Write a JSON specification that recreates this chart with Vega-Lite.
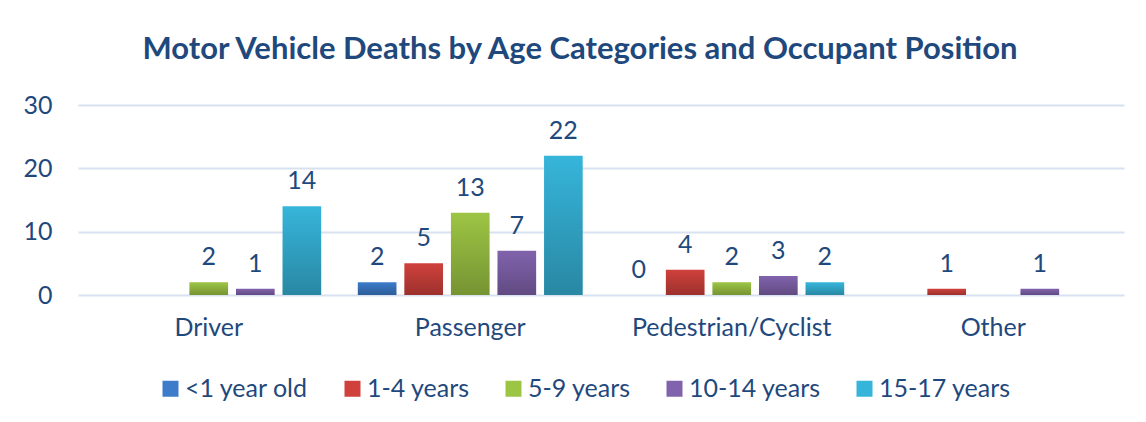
{
  "$schema": "https://vega.github.io/schema/vega-lite/v6.json",
  "autosize": {"type": "none"},
  "width": 1046,
  "height": 190,
  "padding": {"left": 78, "top": 105, "right": 22, "bottom": 127},
  "background": "white",
  "title": {
    "text": "Motor Vehicle Deaths by Age Categories and Occupant Position",
    "font": "Lato",
    "fontSize": 31,
    "fontWeight": "bold",
    "color": "#1F497D",
    "anchor": "middle",
    "dx": -21,
    "offset": 27
  },
  "config": {
    "view": {"stroke": null},
    "font": "Lato"
  },
  "data": {
    "values": [
      {"position": "Driver", "age": "5-9 years", "deaths": 2},
      {"position": "Driver", "age": "10-14 years", "deaths": 1},
      {"position": "Driver", "age": "15-17 years", "deaths": 14},
      {"position": "Passenger", "age": "<1 year old", "deaths": 2},
      {"position": "Passenger", "age": "1-4 years", "deaths": 5},
      {"position": "Passenger", "age": "5-9 years", "deaths": 13},
      {"position": "Passenger", "age": "10-14 years", "deaths": 7},
      {"position": "Passenger", "age": "15-17 years", "deaths": 22},
      {"position": "Pedestrian/Cyclist", "age": "<1 year old", "deaths": 0},
      {"position": "Pedestrian/Cyclist", "age": "1-4 years", "deaths": 4},
      {"position": "Pedestrian/Cyclist", "age": "5-9 years", "deaths": 2},
      {"position": "Pedestrian/Cyclist", "age": "10-14 years", "deaths": 3},
      {"position": "Pedestrian/Cyclist", "age": "15-17 years", "deaths": 2},
      {"position": "Other", "age": "1-4 years", "deaths": 1},
      {"position": "Other", "age": "10-14 years", "deaths": 1}
    ]
  },
  "encoding": {
    "x": {
      "field": "position",
      "type": "nominal",
      "sort": ["Driver", "Passenger", "Pedestrian/Cyclist", "Other"],
      "scale": {"paddingInner": 0.14, "paddingOuter": 0.07},
      "axis": {
        "title": null,
        "labelAngle": 0,
        "labelFont": "Lato",
        "labelFontSize": 25,
        "labelColor": "#1F497D",
        "labelPadding": 20,
        "labelLimit": 0,
        "ticks": false,
        "domain": false,
        "grid": false
      }
    },
    "xOffset": {
      "field": "age",
      "type": "nominal",
      "sort": ["<1 year old", "1-4 years", "5-9 years", "10-14 years", "15-17 years"],
      "scale": {
        "domain": ["<1 year old", "1-4 years", "5-9 years", "10-14 years", "15-17 years"],
        "paddingInner": 0.17,
        "paddingOuter": 0
      }
    },
    "y": {
      "field": "deaths",
      "type": "quantitative",
      "scale": {"domain": [0, 30]},
      "axis": {
        "title": null,
        "values": [0, 10, 20, 30],
        "labelFont": "Lato",
        "labelFontSize": 25,
        "labelColor": "#1F497D",
        "labelPadding": 26,
        "ticks": false,
        "domain": false,
        "gridColor": "#D7E1F0",
        "gridWidth": 2
      }
    }
  },
  "layer": [
    {
      "mark": {"type": "bar"},
      "encoding": {
        "fill": {
          "field": "age",
          "type": "nominal",
          "scale": {
            "domain": ["<1 year old", "1-4 years", "5-9 years", "10-14 years", "15-17 years"],
            "range": ["#3C7CCB", "#D0413C", "#9DC544", "#8163AD", "#36B5DA"]
          },
          "legend": {
            "title": null,
            "orient": "none",
            "direction": "horizontal",
            "legendX": 80,
            "legendY": 271,
            "symbolType": "square",
            "symbolSize": 256,
            "symbolStrokeWidth": 0,
            "symbolOpacity": 1,
            "labelFont": "Lato",
            "labelFontSize": 25,
            "labelColor": "#1F497D",
            "labelOffset": 2,
            "labelLimit": 0,
            "columnPadding": 31
          }
        }
      }
    },
    {
      "mark": {
        "type": "bar",
        "fill": {
          "gradient": "linear",
          "x1": 0, "y1": 0, "x2": 0, "y2": 1,
          "stops": [
            {"offset": 0, "color": "rgba(0,0,0,0)"},
            {"offset": 1, "color": "rgba(0,0,0,0.25)"}
          ]
        }
      },
      "encoding": {}
    },
    {
      "mark": {
        "type": "text",
        "font": "Lato",
        "fontSize": 25,
        "color": "#1F497D",
        "align": "center",
        "baseline": "alphabetic",
        "dy": -17
      },
      "encoding": {
        "text": {"field": "deaths", "type": "quantitative"}
      }
    }
  ]
}
